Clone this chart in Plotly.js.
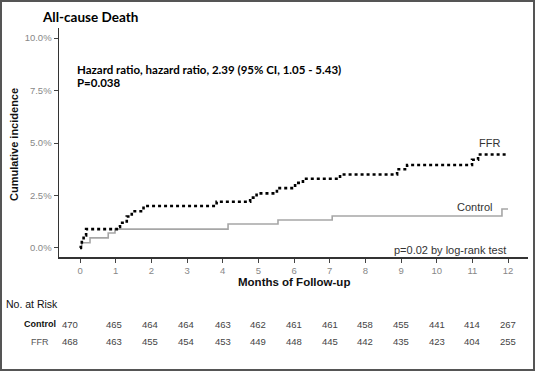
<!DOCTYPE html>
<html><head><meta charset="utf-8">
<script src="https://cdn.plot.ly/plotly-3.0.1.min.js"></script>
<style>html,body{margin:0;padding:0;background:#fff}#chart{width:535px;height:371px}</style>
</head><body><div id="chart"></div>
<script>
// Data
const ffrMonths = [0, 0.02, 0.05, 0.1, 0.17, 1.03, 1.12, 1.31, 1.45, 1.78, 3.83, 4.77, 4.95, 5.52, 6.03, 6.25, 7.29, 8.89, 9.17, 10.99, 11.16, 11.95];
const ffrIncidence = [0, 0.2, 0.4, 0.6, 0.9, 1.0, 1.2, 1.5, 1.75, 2.0, 2.2, 2.4, 2.6, 2.85, 3.1, 3.3, 3.5, 3.75, 3.95, 4.2, 4.45, 4.45];
const controlMonths = [0, 0.05, 0.28, 0.79, 0.98, 4.15, 5.55, 7.07, 11.83, 12.0];
const controlIncidence = [0, 0.25, 0.48, 0.71, 0.9, 1.14, 1.33, 1.52, 1.86, 1.86];
const riskMonths = [0,1,2,3,4,5,6,7,8,9,10,11,12];
const controlAtRisk = [470,465,464,464,463,462,461,461,458,455,441,414,267];
const ffrAtRisk = [468,463,455,454,453,449,448,445,442,435,423,404,255];
const yTicks = [0, 2.5, 5, 7.5, 10];

const traces = [
  {x: controlMonths, y: controlIncidence, mode: 'lines', line: {shape: 'hv', color: '#a6a6a6', width: 1.6}, name: 'Control', hoverinfo: 'skip'},
  {x: ffrMonths, y: ffrIncidence, mode: 'lines', line: {shape: 'hv', color: '#000', width: 2.6, dash: '3px,3px'}, name: 'FFR', hoverinfo: 'skip'}
];

const ann = [];
const F = '"Liberation Sans", Arial, sans-serif';
const L = 'Lato, sans-serif';
const py = p => (257 - p) / 229;
const px = p => (p - 59) / 469;
ann.push({xref:'paper', yref:'paper', x:px(40), y:py(17), xanchor:'left', yanchor:'middle', showarrow:false, text:'<b>All-cause Death</b>', font:{family:L, size:13.5, color:'#000'}});
ann.push({xref:'x', yref:'y', x:-0.14, y:8.52, xanchor:'left', yanchor:'middle', showarrow:false, text:'<b>Hazard ratio, hazard ratio, 2.39 (95% CI, 1.05 - 5.43)</b>', font:{family:L, size:11.5, color:'#000'}});
ann.push({xref:'x', yref:'y', x:-0.14, y:7.86, xanchor:'left', yanchor:'middle', showarrow:false, text:'<b>P=0.038</b>', font:{family:L, size:11.5, color:'#000'}});
ann.push({xref:'x', yref:'y', x:11.49, y:5.0, showarrow:false, text:'FFR', font:{family:F, size:11, color:'#333'}});
ann.push({xref:'x', yref:'y', x:11.07, y:1.95, showarrow:false, text:'Control', font:{family:F, size:11, color:'#333'}});
ann.push({xref:'x', yref:'y', x:12.0, y:-0.1, xanchor:'right', showarrow:false, text:'p=0.02 by log-rank test', font:{family:F, size:11, color:'#333'}});
ann.push({xref:'paper', yref:'paper', x:0.5, y:py(282), showarrow:false, yanchor:'middle', text:'<b>Months of Follow-up</b>', font:{family:F, size:11.5, color:'#111'}});
ann.push({xref:'paper', yref:'paper', x:px(14), y:py(145), xanchor:'center', yanchor:'middle', showarrow:false, textangle:-90, text:'<b>Cumulative incidence</b>', font:{family:F, size:11, color:'#111'}});
ann.push({xref:'paper', yref:'paper', x:px(4), y:py(304), xanchor:'left', yanchor:'middle', showarrow:false, text:'No. at Risk', font:{family:F, size:10.5, color:'#111'}});
ann.push({xref:'paper', yref:'paper', x:px(40), y:py(324), xanchor:'center', yanchor:'middle', showarrow:false, text:'<b>Control</b>', font:{family:F, size:9, color:'#111'}});
ann.push({xref:'paper', yref:'paper', x:px(40), y:py(342), xanchor:'center', yanchor:'middle', showarrow:false, text:'FFR', font:{family:F, size:9, color:'#555'}});
const colShift = [-10, -2, -1, -1, 0, 0, 0, 0, 0, 0, 0, 0, 0];
riskMonths.forEach((m, i) => {
  ann.push({xref:'x', yref:'paper', x:m, xshift:colShift[i], y:py(324), yanchor:'middle', showarrow:false, text:String(controlAtRisk[i]), font:{family:F, size:9.5, color:'#444'}});
  ann.push({xref:'x', yref:'paper', x:m, xshift:colShift[i], y:py(342), yanchor:'middle', showarrow:false, text:String(ffrAtRisk[i]), font:{family:F, size:9.5, color:'#444'}});
});

const layout = {
  width: 535, height: 371,
  margin: {l: 59, r: 7, t: 28, b: 114},
  paper_bgcolor: '#fff', plot_bgcolor: '#fff',
  showlegend: false,
  xaxis: {range: [-0.59, 12.56], tickvals: riskMonths, ticks: 'outside', ticklen: 4, tickcolor: '#444', tickwidth: 1,
          showline: true, linecolor: '#333', linewidth: 1.5, showgrid: false, zeroline: false,
          tickfont: {family: F, size: 9.5, color: '#888'}},
  yaxis: {range: [-0.43, 10.48], tickvals: yTicks, ticktext: yTicks.map(v => v.toFixed(1) + '%'), ticks: 'outside', ticklen: 4, tickcolor: '#444', tickwidth: 1,
          showline: true, linecolor: '#333', linewidth: 1.5, showgrid: false, zeroline: false,
          tickfont: {family: F, size: 9.5, color: '#888'}},
  annotations: ann,
  shapes: [{type: 'rect', xref: 'paper', yref: 'paper', x0: px(1), x1: px(534), y0: py(370), y1: py(1), line: {color: '#555', width: 2}}]
};

Plotly.newPlot('chart', traces, layout, {displayModeBar: false, staticPlot: true});
</script></body></html>
